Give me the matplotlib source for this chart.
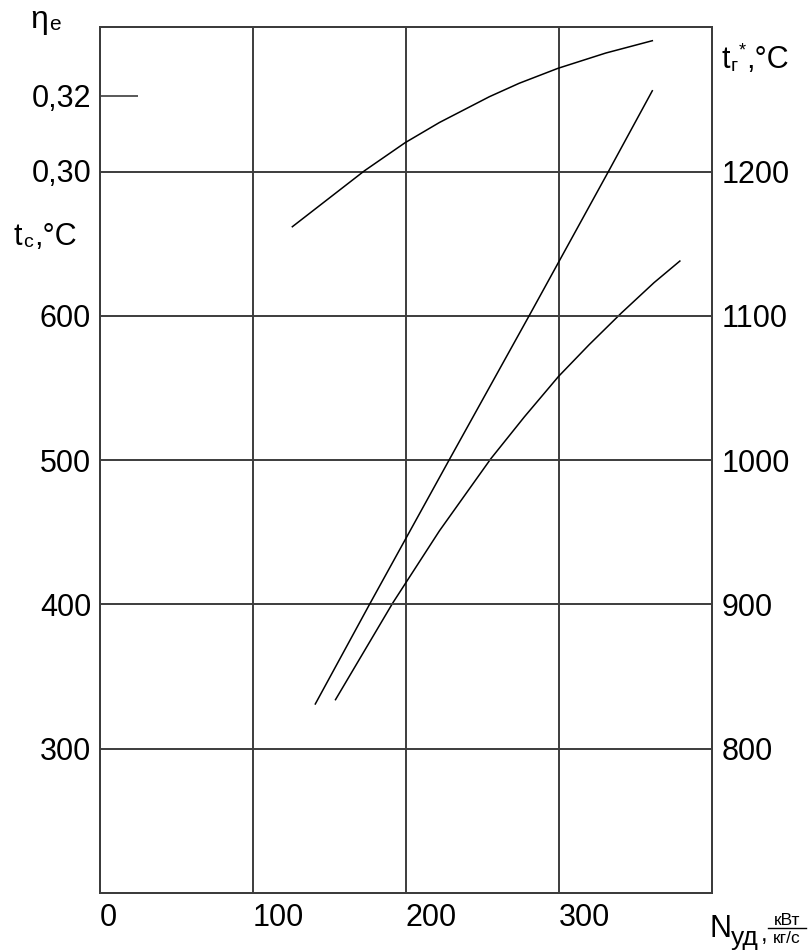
import matplotlib
matplotlib.use("Agg")
import matplotlib.pyplot as plt

plt.rcParams['font.family'] = ['Liberation Sans', 'DejaVu Sans']

W, H = 808, 952
DPI = 100

# specific power N_уд, kW/(kg/s), and the three characteristics
n_eff = [126, 173.2, 199.7, 222.1, 254.7, 274.2, 299.5, 330.8, 361.2]
eta_e = [0.2850, 0.3000, 0.3075, 0.3129, 0.3198, 0.3234, 0.3274, 0.3315, 0.3348]

n_gas = [141.0, 176.4, 228.9, 281.2, 332.5, 361.2]
t_gas = [831, 900, 1001, 1101, 1200, 1256]

n_exh = [154.2, 191.6, 222.1, 255.7, 277.6, 299.9, 319.9, 341.0, 362.3, 379.2]
t_exh = [334, 401, 451, 501, 530, 558, 580, 602, 623, 638]

x_ticks = [0, 100, 200, 300]
tc_ticks = [300, 400, 500, 600]
tr_ticks = [800, 900, 1000, 1100, 1200]
eta_ticks = [0.30, 0.32]
eta_labels = ['0,30', '0,32']

GRID = '#3c3c3c'
FS = 22

fig = plt.figure(figsize=(W / DPI, H / DPI), dpi=DPI)
left, right = 99.5 / W, 711.7 / W
bottom, top = 1 - 893 / H, 1 - 27.3 / H
ax = fig.add_axes([left, bottom, right - left, top - bottom])
ax.set_xlim(0, 400)
ax.set_ylim(200, 800)

ax_r = ax.twinx()
ax_r.set_ylim(700, 1300)

ax_eta = ax.twinx()
ax_eta.set_ylim(0.10661, 0.33839)

for a in (ax, ax_r, ax_eta):
    for s in a.spines.values():
        s.set_color(GRID)
        s.set_linewidth(1.4)
    a.patch.set_visible(False)

# x axis
ax.set_xticks(x_ticks)
ax.set_xticklabels([str(v) for v in x_ticks], fontsize=FS)
for lb in ax.get_xticklabels():
    lb.set_ha('left')
ax.tick_params(axis='x', length=0, pad=7)
ax.grid(axis='x', color=GRID, linewidth=1.4)

# left temperature axis t_c
ax.set_yticks(tc_ticks)
ax.set_yticklabels([str(v) for v in tc_ticks], fontsize=FS)
ax.tick_params(axis='y', length=0, pad=6)

# right temperature axis t_г*
ax_r.set_yticks(tr_ticks)
ax_r.set_yticklabels([str(v) for v in tr_ticks], fontsize=FS)
ax_r.tick_params(axis='y', length=0, pad=7)
ax_r.grid(axis='y', color=GRID, linewidth=1.4)

# efficiency axis, also on the left
ax_eta.yaxis.tick_left()
ax_eta.set_yticks(eta_ticks)
ax_eta.set_yticklabels(eta_labels, fontsize=FS)
ax_eta.tick_params(axis='y', direction='in', length=27.4, width=1.2,
                   color=GRID, pad=6)
# the 0,30 level already has a full grid line
ax_eta.yaxis.get_major_ticks()[0].tick1line.set_visible(False)

# curves
ax_eta.plot(n_eff, eta_e, color='black', linewidth=1.1)
ax_r.plot(n_gas, t_gas, color='black', linewidth=1.1)
ax.plot(n_exh, t_exh, color='black', linewidth=1.1)


def ftext(x, y, s, size=FS, **kw):
    kw.setdefault('va', 'baseline')
    kw.setdefault('ha', 'left')
    fig.text(x / W, 1 - y / H, s, fontsize=size, **kw)


# axis captions
ftext(30, 28, 'η', size=23)
ftext(49, 30.5, 'e', size=15)

ftext(13, 245, 't')
ftext(23, 247, 'c', size=14)
ftext(34, 245, ',°C')

ftext(722, 68, 't')
ftext(731, 71, 'г', size=14)
ftext(739, 55, '*', size=13)
ftext(746, 68, ',°C')

ftext(710, 937, 'N')
ftext(731, 945, 'уд', size=19)
ftext(761, 941, ',', size=17)
ftext(787, 925, 'кВт', size=12.5, ha='center')
ftext(787, 943, 'кг/с', size=12.5, ha='center')
fig.add_artist(plt.Line2D([768 / W, 806 / W], [1 - 928 / H, 1 - 928 / H],
                          color='black', linewidth=1.0))

fig.savefig('out.png', dpi=DPI)
